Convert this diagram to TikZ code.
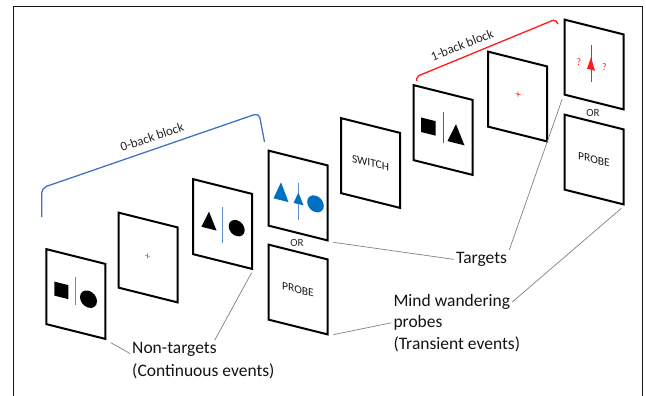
\documentclass[tikz,border=0pt]{standalone}
\usepackage{fontspec}
\setmainfont{Carlito}
\usetikzlibrary{calc}
\definecolor{shapeblue}{HTML}{0070C0}
\definecolor{lineblue}{HTML}{5B8FD0}
\definecolor{brblue}{HTML}{4472C4}
\definecolor{myred}{HTML}{FF1A1A}
\definecolor{connc}{HTML}{808080}
\begin{document}
\begin{tikzpicture}[x=1pt,y=-1pt,
  panel/.style={draw=black, line width=2pt, minimum width=59pt, minimum height=75pt,
    inner sep=0pt, yslant=-0.25, font=\fontsize{11.5}{13}\selectfont, text=black!90},
  content/.style={yslant=-0.25},
  conn/.style={draw=connc, line width=0.7pt},
  lbl/.style={font=\fontsize{17.5}{21}\selectfont, inner sep=2pt, text=black!92},
  blocklbl/.style={font=\fontsize{13}{15}\selectfont, inner sep=1pt, text=black!85},
  orlbl/.style={font=\fontsize{11}{13}\selectfont, inner sep=1pt, text=black!85},
  thinline/.style={line width=0.8pt}]
\useasboundingbox (0,0) rectangle (646,396);
% frame
\draw[line width=1.3pt, black!90] (13.5,396) -- (13.5,6.5) -- (642.5,6.5) -- (642.5,396);

% panels
\node[panel] (p1) at (75.8,294) {};
\node[panel] (p2) at (148,257.5) {};
\node[panel] (p3) at (222.5,224) {};
\node[panel] (p4) at (298,195.5) {};
\node[panel] (p5) at (298,289.5) {PROBE};
\node[panel] (p6) at (370.5,163) {SWITCH};
\node[panel] (p7) at (443,130) {};
\node[panel] (p8) at (517.5,96.5) {};
\node[panel] (p9) at (594,64.5) {};
\node[panel] (p10) at (594,159.5) {PROBE};

% OR labels
\node[orlbl] (or1) at (297,243) {OR};
\node[orlbl] (or2) at (593,113) {OR};

% panel 1 contents
\begin{scope}[shift={(p1.center)}, content]
  \fill (-21.5,-7) rectangle (-7.5,7);
  \draw[lineblue, thinline] (0,-17) -- (0,11);
  \fill (12.7,2) circle (8.5);
\end{scope}
% panel 2 contents
\begin{scope}[shift={(p2.center)}, content]
  \draw[lineblue, line width=0.6pt] (-3,-1.5) -- (2,-1.5) (-0.5,-4) -- (-0.5,1);
\end{scope}
% panel 3 contents
\begin{scope}[shift={(p3.center)}, content]
  \fill (-13.5,-9) -- (-6,8) -- (-21,8) -- cycle;
  \draw[lineblue, thinline] (0,-17) -- (0,19);
  \fill (14.2,0.6) circle (8);
\end{scope}
% panel 4 contents
\begin{scope}[shift={(p4.center)}, content]
  \draw[lineblue, thinline] (0.8,-13) -- (0.8,24);
  \fill[shapeblue] (-17,-9) -- (-9.5,9) -- (-24.5,9) -- cycle;
  \fill[shapeblue] (0.5,-3) -- (5.5,8.5) -- (-4.5,8.5) -- cycle;
  \fill[shapeblue] (17.5,4) circle (8.3);
\end{scope}
% panel 7 contents
\begin{scope}[shift={(p7.center)}, content]
  \fill (-22,-7) rectangle (-7.5,7.5);
  \draw[myred, thinline] (0,-18) -- (0,13);
  \fill (13,-9) -- (21.5,10) -- (4.5,10) -- cycle;
\end{scope}
% panel 8 contents
\begin{scope}[shift={(p8.center)}, content]
  \draw[myred, line width=0.6pt] (-2,-2.5) -- (3,-2.5) (0.5,-5) -- (0.5,0);
\end{scope}
% panel 9 contents
\begin{scope}[shift={(p9.center)}, content]
  \draw[myred, thinline] (-3,-18.5) -- (-3,18.5);
  \fill[myred] (-3,-6.5) -- (1,6) -- (-7,6) -- cycle;
  \node[text=myred, font=\fontsize{10}{12}\selectfont, inner sep=0pt] (q1) at (-15,1) {?};
  \node[text=myred, font=\fontsize{10}{12}\selectfont, inner sep=0pt] (q2) at (10.5,0) {?};
\end{scope}

% block brackets
\draw[brblue, line width=1.3pt, rounded corners=5pt] (41.7,217) -- (41.7,188) -- (259,113) -- (264.5,142);
\node[blocklbl, rotate=19] (lb0) at (152,137) {0-back block};
\draw[myred, line width=1.3pt, rounded corners=2pt] (416.7,81) -- (416.7,76.5) -- (555,19.5) -- (558,24);
\node[blocklbl, rotate=21.5] (lb1) at (462,45) {1-back block};

% labels
\node[lbl, anchor=base west] (nt1) at (130,353.5) {Non-targets};
\node[lbl, anchor=base west] (nt2) at (130,376.5) {(Continuous events)};
\node[lbl, anchor=base west] (tg) at (454,263.5) {Targets};
\node[lbl, anchor=base west] (mw1) at (391.3,306.5) {Mind wandering};
\node[lbl, anchor=base west] (mw2) at (391.3,327.5) {probes};
\node[lbl, anchor=base west] (mw3) at (391.3,349.5) {(Transient events)};

% connectors
\draw[conn, shorten <=5pt] (p1.south east) -- (nt1.base west);
\draw[conn, shorten <=3pt] (p3.south east) -- ([xshift=-4pt]nt1.north east);
\draw[conn, shorten <=5pt] (p4.south east) -- (tg.west);
\draw[conn, shorten <=4pt] (p9.south west) -- (tg.north east);
\draw[conn, shorten <=4pt] (p10.south east) -- (mw1.east);
\draw[conn, shorten <=5pt] (p5.south east) -- (mw2.west);
\end{tikzpicture}
\end{document}
